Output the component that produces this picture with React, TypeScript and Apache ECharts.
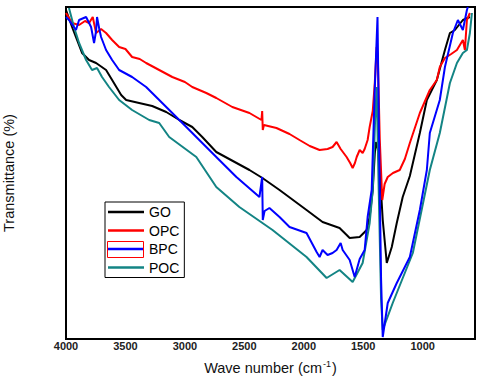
import React, { useEffect, useRef } from "react";
import * as echarts from "echarts";

// Wavenumber (cm-1) / transmittance (arbitrary units) pairs
const goData: [number, number][] = [
  [4000, 329], [3949, 312], [3907, 299], [3865, 286], [3806, 279], [3747, 276], [3663, 269],
  [3612, 259], [3536, 244], [3494, 239], [3385, 236], [3275, 233], [3157, 227], [3047, 219],
  [2938, 212], [2854, 202], [2736, 187], [2457, 169], [2348, 161], [2204, 149], [1977, 129],
  [1842, 117], [1699, 111], [1614, 101], [1530, 102], [1471, 109], [1446, 122], [1420, 149],
  [1403, 185], [1395, 197], [1378, 190], [1361, 169], [1336, 119], [1302, 76], [1260, 92],
  [1218, 116], [1168, 142], [1108, 163], [1024, 206], [965, 239], [881, 259], [813, 289],
  [771, 306], [729, 309], [662, 319], [603, 322],
];

const opcData: [number, number][] = [
  [4000, 326], [3949, 316], [3890, 314], [3840, 318], [3806, 316], [3775, 322], [3747, 306],
  [3705, 310], [3663, 306], [3612, 299], [3553, 292], [3500, 290], [3444, 282], [3380, 280],
  [3326, 276], [3216, 269], [3106, 262], [3000, 257], [2938, 252], [2820, 246], [2736, 241],
  [2601, 232], [2457, 226], [2356, 219], [2350, 228], [2345, 209], [2335, 214], [2300, 213],
  [2230, 211], [2120, 205], [2036, 199], [1950, 193], [1867, 189], [1800, 190], [1758, 192],
  [1724, 197], [1690, 190], [1640, 182], [1610, 176], [1589, 171], [1570, 176], [1555, 182],
  [1530, 189], [1505, 186], [1488, 190], [1463, 199], [1446, 212], [1420, 228], [1403, 256],
  [1387, 292], [1378, 285], [1361, 200], [1340, 139], [1320, 155], [1294, 162], [1250, 166],
  [1193, 169], [1150, 180], [1108, 196], [1024, 226], [940, 249], [881, 259], [856, 272],
  [813, 281], [760, 285], [712, 289], [662, 299], [645, 289], [628, 319], [603, 326],
];

const bpcData: [number, number][] = [
  [4000, 322], [3975, 319], [3916, 309], [3890, 319], [3831, 322], [3789, 312], [3764, 296],
  [3747, 308], [3739, 322], [3720, 310], [3705, 302], [3663, 289], [3612, 279], [3553, 269],
  [3444, 262], [3326, 252], [3216, 239], [3106, 226], [2988, 212], [2879, 199], [2736, 182],
  [2567, 162], [2373, 142], [2350, 162], [2345, 119], [2330, 128], [2289, 131], [2204, 122],
  [2120, 112], [1977, 106], [1892, 87], [1867, 82], [1842, 89], [1800, 84], [1758, 86],
  [1724, 89], [1690, 96], [1673, 89], [1614, 79], [1572, 62], [1530, 80], [1488, 89],
  [1463, 122], [1429, 149], [1403, 250], [1380, 322], [1365, 180], [1350, 60], [1336, 2],
  [1294, 36], [1218, 56], [1108, 82], [1024, 129], [965, 169], [940, 206], [856, 239],
  [813, 272], [746, 306], [704, 319], [662, 309], [628, 329], [620, 332],
];

const pocData: [number, number][] = [
  [3975, 331], [3933, 312], [3890, 296], [3831, 279], [3781, 269], [3739, 271], [3697, 262],
  [3638, 252], [3553, 239], [3444, 229], [3300, 219], [3216, 216], [3132, 202], [2904, 182],
  [2736, 152], [2542, 132], [2263, 109], [1977, 82], [1808, 61], [1699, 69], [1589, 57],
  [1505, 76], [1446, 116], [1420, 149], [1400, 220], [1387, 252], [1370, 150], [1350, 40],
  [1336, 9], [1252, 36], [1083, 86], [940, 169], [856, 206], [771, 256], [712, 276],
  [662, 286], [628, 289], [603, 306], [586, 326],
];

const seriesNames = ["GO", "OPC", "BPC", "POC"];
const seriesColors = ["#000000", "#ff0000", "#0000ff", "#138484"];
const seriesData = [goData, opcData, bpcData, pocData];
const xTickLabels = [4000, 3500, 3000, 2500, 2000, 1500, 1000];

export default function App() {
  const ref = useRef<HTMLDivElement>(null);
  useEffect(() => {
    if (!ref.current) return;
    const chart = echarts.init(ref.current, null, { renderer: "svg" });
    chart.setOption({
      animation: false,
      backgroundColor: "#ffffff",
      grid: {
        left: 66,
        right: 5,
        top: 7,
        bottom: 39,
        show: true,
        borderColor: "#000",
        borderWidth: 2,
        containLabel: false,
        outerBoundsMode: "none",
      },
      legend: {
        orient: "vertical",
        left: 105,
        top: 202,
        data: seriesNames,
        icon: "path://M0,0 L36,0 L36,2.5 L0,2.5 Z",
        itemWidth: 36,
        itemHeight: 14,
        itemGap: 4.5,
        padding: [3, 5, 3, 3],
        borderColor: "#000",
        borderWidth: 1,
        textStyle: { fontSize: 14, fontFamily: "Arial, Liberation Sans", color: "#000" },
      },
      xAxis: {
        type: "value",
        inverse: true,
        min: 560,
        max: 4000,
        name: "{a|Wave number (cm}{s|-1}{a|)}",
        nameLocation: "middle",
        nameGap: 20,
        nameTextStyle: {
          rich: {
            a: { fontSize: 14.5, lineHeight: 17, fontFamily: "Arial, Liberation Sans", color: "#111" },
            s: { fontSize: 9, lineHeight: 17, verticalAlign: "top", padding: [0, 1, 8, 1], fontFamily: "Arial, Liberation Sans", color: "#111" },
          },
        },
        axisLine: { show: true, lineStyle: { color: "#000", width: 2 } },
        axisTick: { show: false },
        splitLine: { show: false },
        axisLabel: {
          customValues: xTickLabels,
          formatter: (v: number) => String(v),
          fontSize: 11,
          fontWeight: "bold",
          fontFamily: "Arial, Liberation Sans",
          color: "#222",
          margin: 1,
        },
      },
      yAxis: {
        type: "value",
        min: 0,
        max: 332,
        name: "Transmittance (%)",
        nameLocation: "middle",
        nameGap: 50,
        nameTextStyle: { fontSize: 14.5, fontFamily: "Arial, Liberation Sans", color: "#111" },
        axisLine: { show: true, lineStyle: { color: "#000", width: 2 } },
        axisTick: { show: false },
        axisLabel: { show: false },
        splitLine: { show: false },
      },
      graphic: [
        {
          type: "rect",
          shape: { x: 107.5, y: 241.5, width: 36, height: 16 },
          style: { fill: "none", stroke: "#ff0000", lineWidth: 1 },
          z: 100,
        },
      ],
      series: seriesNames.map((name, i) => ({
        name,
        type: "line",
        data: seriesData[i],
        showSymbol: false,
        symbol: "none",
        lineStyle: { color: seriesColors[i], width: 2 },
        itemStyle: { color: seriesColors[i] },
        z: i === 2 ? 4 : 3,
      })),
    });
    return () => chart.dispose();
  }, []);
  return (
    <div
      ref={ref}
      style={{ position: "fixed", left: 0, top: 0, width: 480, height: 378 }}
    />
  );
}
